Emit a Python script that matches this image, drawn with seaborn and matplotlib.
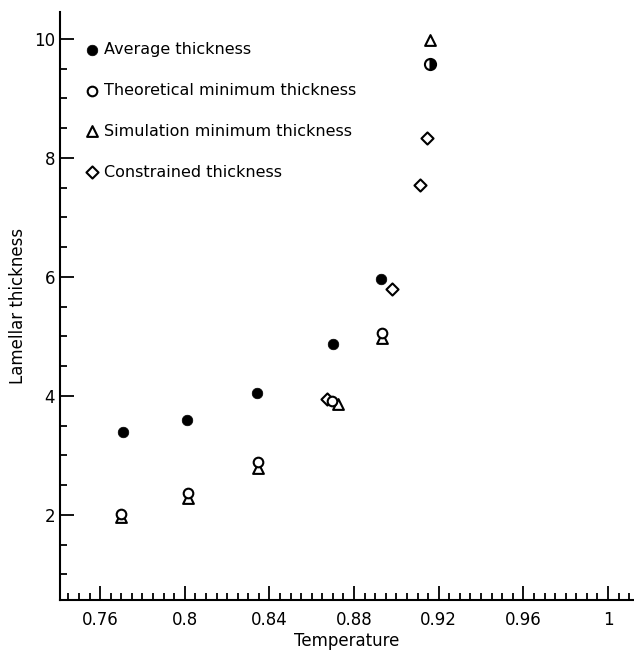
import matplotlib
matplotlib.use("Agg")
import matplotlib.pyplot as plt
from matplotlib.ticker import MultipleLocator, FixedLocator, FixedFormatter
import seaborn as sns
import pandas as pd

# ---- data ----
temp_avg = [0.771, 0.801, 0.834, 0.870, 0.8925]
thick_avg = [3.40, 3.59, 4.04, 4.87, 5.97]
temp_half = [0.9158]          # half-filled circle (average ~ theoretical)
thick_half = [9.58]
temp_theo = [0.770, 0.8013, 0.8345, 0.8694, 0.8933]
thick_theo = [2.01, 2.36, 2.88, 3.91, 5.06]
temp_sim = [0.770, 0.8013, 0.8345, 0.8725, 0.8933, 0.9158]
thick_sim = [1.97, 2.28, 2.79, 3.86, 4.98, 9.98]
temp_con = [0.8671, 0.898, 0.9111, 0.9143]
thick_con = [3.95, 5.80, 7.54, 8.34]

xtick_values = [0.76, 0.80, 0.84, 0.88, 0.92, 0.96, 1.00]
xtick_labels = ["0.76", "0.8", "0.84", "0.88", "0.92", "0.96", "1"]
ytick_values = [2, 4, 6, 8, 10]
ytick_labels = ["2", "4", "6", "8", "10"]

labels = ["Average thickness", "Theoretical minimum thickness",
          "Simulation minimum thickness", "Constrained thickness"]

sns.set_style("ticks")
plt.rcParams["font.family"] = ["DejaVu Sans"]
plt.rcParams["text.color"] = "black"
plt.rcParams["axes.labelcolor"] = "black"

fig = plt.figure(figsize=(6.34, 6.5), dpi=100)
ax = fig.add_axes([0.0946, 0.077, 0.9054, 0.9045])

df_avg = pd.DataFrame({"T": temp_avg, "L": thick_avg})
df_theo = pd.DataFrame({"T": temp_theo, "L": thick_theo})
df_sim = pd.DataFrame({"T": temp_sim, "L": thick_sim})
df_con = pd.DataFrame({"T": temp_con, "L": thick_con})

sns.scatterplot(data=df_sim, x="T", y="L", marker="^", s=60, facecolor="white",
                edgecolor="black", linewidth=1.5, ax=ax, label=labels[2], zorder=3)
sns.scatterplot(data=df_theo, x="T", y="L", marker="o", s=48, facecolor="white",
                edgecolor="black", linewidth=1.5, ax=ax, label=labels[1], zorder=4)
sns.scatterplot(data=df_con, x="T", y="L", marker="D", s=38, facecolor="white",
                edgecolor="black", linewidth=1.5, ax=ax, label=labels[3], zorder=3)
sns.scatterplot(data=df_avg, x="T", y="L", marker="o", s=58, color="black",
                edgecolor="black", linewidth=0.5, ax=ax, label=labels[0], zorder=5)
ax.plot(temp_half, thick_half, linestyle="none", marker="o", markersize=8,
        fillstyle="right", markerfacecolor="black", markerfacecoloralt="white",
        markeredgecolor="black", markeredgewidth=1.5, zorder=6)

ax.set_xlim(0.741, 1.0123)
ax.set_ylim(0.57, 10.45)

ax.xaxis.set_major_locator(FixedLocator(xtick_values))
ax.xaxis.set_major_formatter(FixedFormatter(xtick_labels))
ax.xaxis.set_minor_locator(MultipleLocator(0.005))
ax.yaxis.set_major_locator(FixedLocator(ytick_values))
ax.yaxis.set_major_formatter(FixedFormatter(ytick_labels))
ax.yaxis.set_minor_locator(MultipleLocator(0.5))

ax.tick_params(which="both", direction="in", width=1.3, labelsize=12, colors="black")
ax.tick_params(which="major", length=10)
ax.tick_params(which="minor", length=5)
ax.tick_params(axis="x", pad=8)

sns.despine(ax=ax)
for s in ["left", "bottom"]:
    ax.spines[s].set_linewidth(1.5)
    ax.spines[s].set_color("black")

ax.set_xlabel("Temperature", fontsize=12, labelpad=2)
ax.set_ylabel("Lamellar thickness", fontsize=12, labelpad=5)

handles, labs = ax.get_legend_handles_labels()
order = [labs.index(l) for l in labels]
ax.legend([handles[i] for i in order], [labs[i] for i in order],
          loc="upper left", bbox_to_anchor=(0.03, 0.96), frameon=False,
          fontsize=11.5, handletextpad=0.3, labelspacing=1.62, borderaxespad=0,
          handlelength=1.0)

fig.savefig("out.png", dpi=100)
